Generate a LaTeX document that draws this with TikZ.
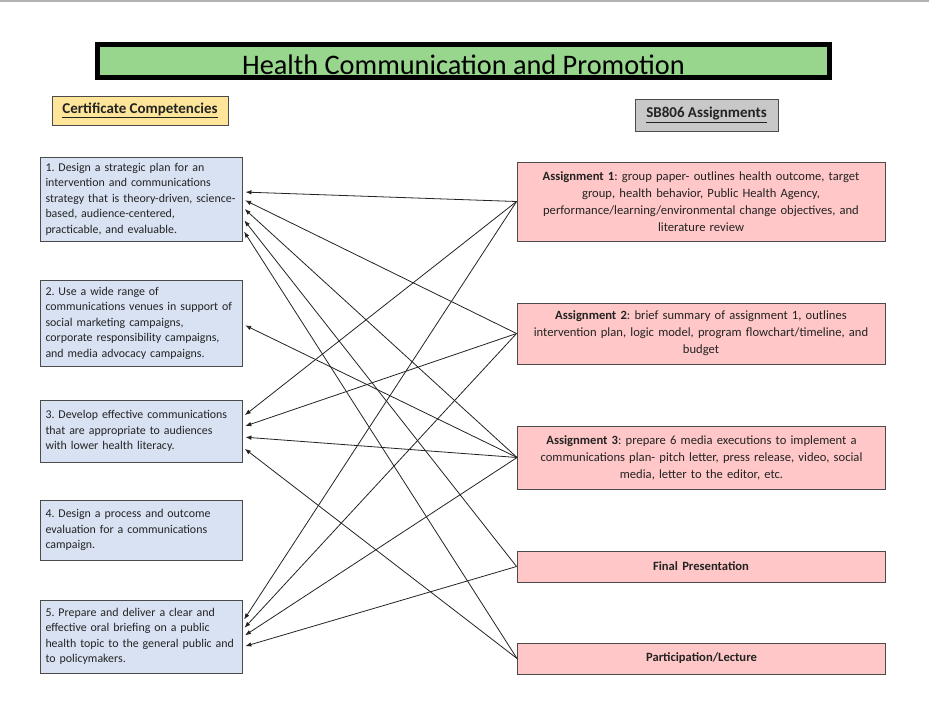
\documentclass[tikz,border=0pt]{standalone}
\usepackage{fontspec}
\setmainfont{Carlito}
\usetikzlibrary{arrows.meta}
\frenchspacing

\definecolor{compblue}{RGB}{217,226,243}
\definecolor{taskpink}{RGB}{255,199,199}
\definecolor{titlegreen}{RGB}{152,214,142}
\definecolor{headyellow}{RGB}{255,229,153}
\definecolor{headgray}{RGB}{200,200,200}
\definecolor{edgegray}{RGB}{75,75,75}
\definecolor{inkgray}{RGB}{35,35,35}

\tikzset{
  compbox/.style={draw=edgegray, fill=compblue, line width=0.9pt, inner xsep=5.5pt, inner ysep=0pt,
    text width=191pt, minimum width=202pt, align=left, text=inkgray,
    font=\fontsize{11.9}{15.5}\selectfont},
  taskbox/.style={draw=edgegray, fill=taskpink, line width=0.9pt, inner xsep=4pt, inner ysep=0pt,
    text width=360pt, minimum width=368pt, align=center, text=inkgray,
    font=\fontsize{12.6}{17}\selectfont},
  headbox/.style={draw=edgegray, line width=0.9pt, inner sep=0pt, text=inkgray,
    font=\fontsize{15}{17}\selectfont\bfseries},
  link/.style={->, >={Latex[length=6pt,width=4.5pt]}, draw=inkgray, line width=0.8pt, shorten >=3pt}
}

\begin{document}
\begin{tikzpicture}[x=1pt, y=-1pt]

  \useasboundingbox (0,0) rectangle (929,718);
  \draw[gray!60, line width=1.5pt] (0,1) -- (929,1);

  % --- title ---
  \node[draw=black, fill=titlegreen, line width=5pt, minimum width=732pt, inner xsep=0pt,
        inner ysep=1pt, text height=29pt, text depth=2.5pt, text=black,
        font=\fontsize{28.3}{30}\selectfont] (title) at (463.5,61.2) {Health Communication and Promotion};

  % --- column headings ---
  \node[headbox, fill=headyellow, minimum width=176pt, minimum height=29pt] (certhead) at (140,110.5)
    {\underline{Certificate Competencies}};
  \node[headbox, fill=headgray, minimum width=143pt, minimum height=32pt] (taskhead) at (706.5,115)
    {\underline{SB806 Assignments}};

  % --- competencies ---
  \node[compbox, minimum height=84pt] (C1) at (141,199)
    {1. Design a strategic plan for an\\ intervention and communications\\ strategy that is theory-driven, science-\\ based, audience-centered,\\ practicable, and evaluable.};
  \node[compbox, minimum height=86pt] (C2) at (141,323)
    {2. Use a wide range of\\ communications venues in support of\\ social marketing campaigns,\\ corporate responsibility campaigns,\\ and media advocacy campaigns.};
  \node[compbox, minimum height=62pt] (C3) at (141,431)
    {3. Develop effective communications\\ that are appropriate to audiences\\ with lower health literacy.};
  \node[compbox, minimum height=60pt] (C4) at (141,530)
    {4. Design a process and outcome\\ evaluation for a communications\\ campaign.};
  \node[compbox, minimum height=73pt] (C5) at (141,636.5)
    {5. Prepare and deliver a clear and\\ effective oral briefing on a public\\ health topic to the general public and\\ to policymakers.};

  % --- assignments ---
  \node[taskbox, minimum height=79pt] (A1) at (701,201.5)
    {\textbf{Assignment 1}: group paper- outlines health outcome, target\\ group, health behavior, Public Health Agency,\\ performance/learning/environmental change objectives, and\\ literature review};
  \node[taskbox, minimum height=61pt] (A2) at (701,333.5)
    {\textbf{Assignment 2}: brief summary of assignment 1, outlines\\ intervention plan, logic model, program flowchart/timeline, and\\ budget};
  \node[taskbox, minimum height=63pt] (A3) at (701.5,457.5)
    {\textbf{Assignment 3}: prepare 6 media executions to implement a\\ communications plan- pitch letter, press release, video, social\\ media, letter to the editor, etc.};
  \node[taskbox, minimum height=31pt] (final) at (701,566.5) {\textbf{Final Presentation}};
  \node[taskbox, minimum height=31pt] (partic) at (701.5,658.5) {\textbf{Participation/Lecture}};

  % --- links: assignment -> competency (yshift at the arrow end) ---
  \foreach \src/\dst/\dy in {A1/C1/7, A2/C1/0, A3/C1/-8, final/C1/-19, partic/C1/-30,
                             A3/C2/-1,
                             A1/C3/14, A2/C3/4, A3/C3/-6, partic/C3/-16,
                             A1/C5/14.5, A2/C5/6.5, A3/C5/-0.5, final/C5/-10.5}
    \draw[link] (\src.west) -- ([yshift=\dy pt]\dst.east);

\end{tikzpicture}
\end{document}
